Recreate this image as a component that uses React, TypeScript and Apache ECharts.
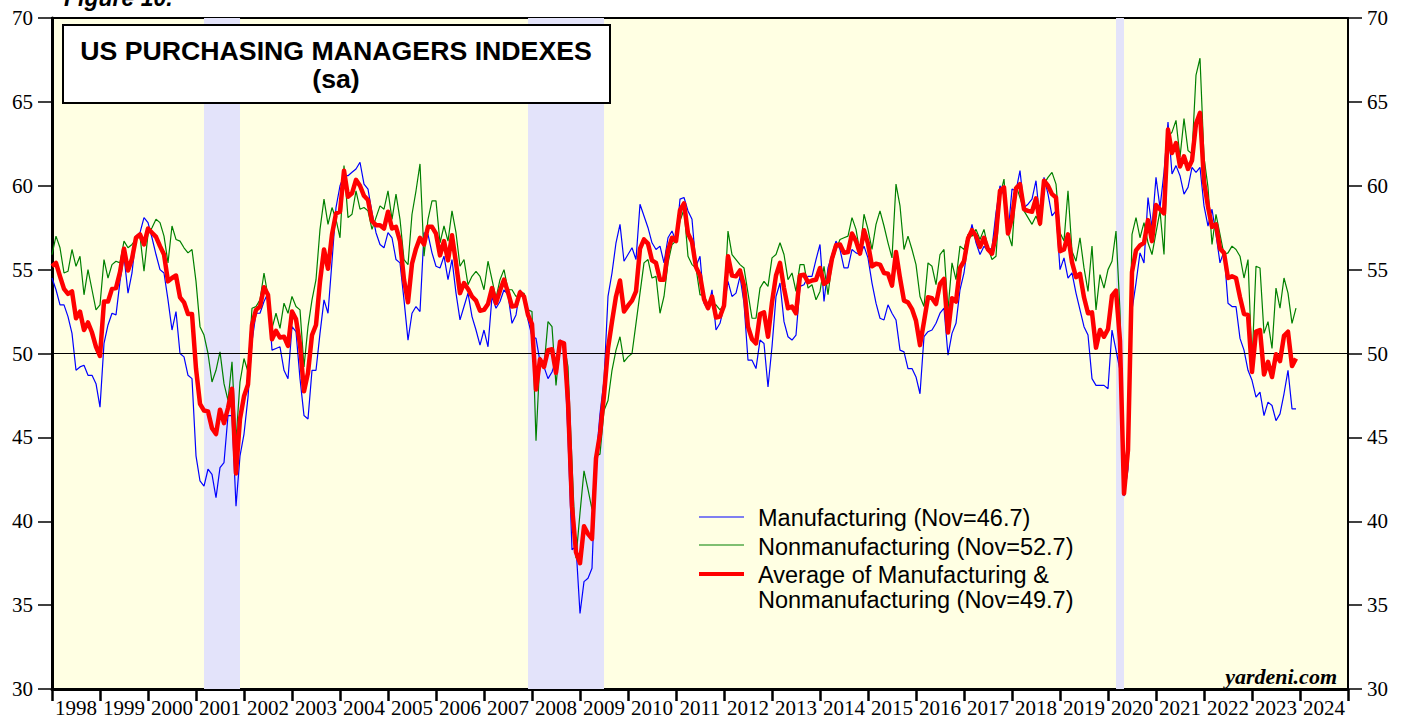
import React, { useEffect, useRef } from "react";
import * as echarts from "echarts";

// Year labels on the time axis
const years: string[] = [
  "1998", "1999", "2000", "2001", "2002", "2003", "2004", "2005", "2006",
  "2007", "2008", "2009", "2010", "2011", "2012", "2013", "2014", "2015",
  "2016", "2017", "2018", "2019", "2020", "2021", "2022", "2023", "2024",
];

// Monthly values, Dec 1997 .. Nov 2023
const manufacturing: number[] = [
  54.5,
  53.8, 52.9, 52.9, 52.2, 51.2, 49.0, 49.2, 49.3, 48.7, 48.7, 48.2, 46.8,
  50.6, 51.7, 52.4, 52.3, 54.3, 55.8, 53.6, 54.8, 57.0, 57.2, 58.1, 57.8,
  56.9, 55.9, 55.0, 54.8, 53.2, 51.4, 52.5, 50.0, 49.8, 48.7, 48.5, 43.9,
  42.4, 42.1, 43.1, 42.8, 41.4, 43.2, 43.5, 46.3, 46.3, 40.9, 43.9, 45.2,
  47.4, 50.7, 52.4, 52.4, 53.1, 53.6, 50.2, 50.3, 50.4, 49.0, 48.5, 51.6,
  51.3, 48.5, 46.3, 46.1, 49.0, 49.0, 51.2, 53.2, 52.4, 55.5, 58.7, 60.0,
  60.6, 60.6, 60.8, 61.0, 61.4, 60.1, 59.8, 58.4, 57.2, 56.5, 56.3, 57.2,
  56.9, 55.6, 55.4, 53.2, 50.8, 52.4, 52.8, 52.5, 57.2, 57.1, 56.0, 55.2,
  55.1, 55.8, 54.4, 55.6, 53.6, 52.0, 52.8, 53.6, 52.2, 51.4, 50.5, 51.4,
  50.4, 53.4, 52.7, 53.1, 53.8, 53.5, 51.8, 52.3, 53.8, 53.2, 52.0, 51.0,
  50.9, 49.5, 49.2, 48.5, 48.9, 49.6, 50.8, 50.6, 45.0, 38.3, 38.5, 34.5,
  36.4, 36.6, 37.2, 43.6, 46.4, 48.4, 53.4, 54.8, 56.6, 57.7, 55.5, 55.9,
  56.3, 55.6, 58.9, 58.2, 57.5, 56.6, 56.2, 56.4, 55.4, 56.9, 57.3, 56.7,
  59.2, 59.3, 58.5, 58.0, 55.2, 55.8, 53.0, 52.6, 53.8, 51.4, 51.8, 52.8,
  54.3, 53.4, 53.6, 54.6, 53.0, 49.6, 49.6, 49.1, 50.8, 50.6, 48.0, 50.4,
  53.4, 54.2, 51.9, 51.0, 50.8, 51.1, 54.0, 54.1, 54.6, 54.6, 55.6, 56.5,
  53.1, 55.1, 55.9, 56.7, 56.2, 55.1, 55.1, 56.2, 56.0, 55.9, 56.4, 55.7,
  54.2, 53.0, 52.1, 52.0, 52.9, 52.4, 52.0, 50.2, 50.1, 49.1, 49.1, 48.6,
  47.6, 51.0, 51.3, 51.4, 51.8, 52.4, 52.7, 49.9, 51.2, 51.8, 53.8, 54.8,
  56.6, 57.7, 56.6, 55.9, 56.4, 56.1, 56.3, 58.4, 60.0, 59.4, 57.1, 59.8,
  59.7, 60.9, 58.7, 58.9, 59.2, 60.3, 57.9, 60.5, 59.5, 58.2, 58.5, 55.0,
  55.7, 54.5, 54.8, 53.6, 52.6, 51.6, 51.1, 48.5, 48.1, 48.1, 48.1, 47.9,
  51.4, 50.2, 49.0, 41.5, 43.1, 52.6, 54.2, 56.0, 55.4, 59.3, 57.5, 60.5,
  58.7, 60.8, 63.8, 60.7, 61.2, 60.6, 59.5, 59.9, 61.1, 60.8, 61.1, 58.8,
  57.6, 58.6, 57.1, 55.4, 56.1, 53.0, 52.8, 52.8, 50.9, 50.2, 49.0, 48.4,
  47.4, 47.7, 46.3, 47.1, 46.9, 46.0, 46.4, 47.6, 49.0, 46.7, 46.7,
];

const nonmanufacturing: number[] = [
  55.9,
  57.0, 56.3, 54.8, 54.9, 56.2, 55.2, 55.8, 53.5, 55.0, 53.8, 52.6, 52.9,
  55.6, 54.5, 55.3, 55.5, 55.4, 56.7, 56.3, 56.5, 56.8, 57.0, 54.9, 57.1,
  57.5, 58.0, 57.8, 57.0, 55.4, 57.6, 56.8, 56.7, 56.3, 56.0, 56.2, 54.3,
  51.6, 51.1, 50.0, 48.3, 49.0, 50.1, 48.2, 47.2, 49.5, 44.8, 48.3, 49.7,
  48.9, 52.7, 52.8, 53.2, 54.8, 53.4, 51.5, 52.4, 51.5, 53.0, 52.4, 53.4,
  52.8, 52.6, 49.2, 51.6, 53.2, 54.4, 57.4, 59.2, 57.7, 58.7, 58.0, 56.9,
  61.2, 58.1, 58.3, 59.7, 58.6, 58.7, 58.5, 57.4, 58.1, 58.8, 58.6, 59.7,
  58.0, 59.5, 58.0, 55.6, 55.3, 58.3, 59.7, 61.3, 55.8, 58.0, 59.1, 59.1,
  56.6, 57.6, 56.7, 58.5, 57.2, 55.2, 55.6, 54.1, 54.6, 54.9, 54.6, 53.8,
  55.5, 54.4, 53.3, 54.4, 55.0, 53.8, 53.8, 53.4, 53.5, 53.6, 52.6, 52.5,
  44.8, 49.8, 49.2, 51.9, 51.6, 48.1, 50.6, 50.6, 49.2, 43.5, 37.8, 40.5,
  43.0, 41.9, 40.7, 43.9, 44.0, 46.6, 47.2, 49.0, 50.2, 51.0, 49.5, 49.8,
  50.0, 51.8, 53.6, 55.4, 55.6, 54.5, 54.6, 52.4, 53.4, 55.4, 56.5, 56.7,
  57.9, 58.6, 55.8, 55.3, 55.1, 53.5, 53.5, 52.8, 53.0, 52.9, 52.6, 52.9,
  57.3, 55.9, 55.6, 55.3, 55.1, 53.6, 52.1, 52.1, 53.9, 54.3, 54.0, 55.7,
  55.9, 56.6, 55.9, 54.4, 54.8, 53.7, 55.3, 55.3, 53.9, 54.1, 53.2, 53.7,
  55.2, 53.5, 55.4, 56.2, 56.8, 56.9, 57.0, 58.1, 57.4, 56.0, 58.3, 57.4,
  56.2, 57.7, 58.5, 57.6, 56.6, 55.7, 60.1, 58.8, 56.2, 57.0, 56.2, 55.3,
  53.4, 52.8, 55.4, 55.2, 54.1, 55.9, 56.2, 52.6, 55.4, 54.4, 56.4, 56.2,
  57.1, 57.0, 57.4, 56.8, 57.4, 56.3, 55.6, 55.8, 59.4, 60.4, 57.2, 56.4,
  60.0, 59.3, 58.5, 58.1, 57.7, 58.2, 57.6, 60.1, 60.5, 60.8, 60.1, 57.2,
  56.7, 59.7, 56.1, 55.5, 56.9, 55.1, 53.7, 56.4, 52.6, 54.7, 53.9, 55.0,
  55.5, 57.3, 52.5, 41.8, 45.4, 57.1, 58.1, 56.9, 57.8, 56.6, 55.9, 57.2,
  58.5, 55.9, 62.9, 63.2, 63.9, 61.7, 64.0, 62.1, 61.9, 66.6, 67.6, 61.7,
  59.9, 56.5, 58.3, 57.1, 55.9, 56.0, 56.4, 56.2, 55.8, 54.5, 55.6, 49.4,
  55.2, 55.1, 51.2, 51.9, 50.3, 53.9, 52.7, 54.5, 53.6, 51.8, 52.7,
];

// Recession periods (decimal years)
const recessionStarts: number[] = [2001.167, 2007.917, 2020.167];
const recessionEnds: number[] = [2001.917, 2009.5, 2020.333];

const seriesStart = 1998.0; // first observation (Dec 1997) plotted at axis start

const average: number[] = manufacturing.map(
  (v, i) => Math.round(((v + nonmanufacturing[i]) / 2) * 100) / 100
);

const toPoints = (arr: number[]) =>
  arr.map((v, i) => [seriesStart + i / 12, v]);

const last = (arr: number[]) => arr[arr.length - 1].toFixed(1);

export default function App() {
  const ref = useRef<HTMLDivElement>(null);

  useEffect(() => {
    if (!ref.current) return;
    const chart = echarts.init(ref.current, undefined, { renderer: "svg" });

    const serif = "Liberation Serif";
    const sans = "Liberation Sans";

    const yAxisBase = (pos: "left" | "right") => ({
      type: "value" as const,
      min: 30,
      max: 70,
      interval: 5,
      position: pos,
      axisLine: { show: true, lineStyle: { color: "#000", width: pos === "left" ? 3 : 2 } },
      axisTick: { show: true, length: 14, lineStyle: { color: "#000", width: 1.5 } },
      axisLabel: { color: "#000", fontFamily: serif, fontSize: 21, margin: 19 },
      splitLine: { show: false },
    });

    const legendLabel = {
      fontFamily: sans,
      fontSize: 23.5,
      fill: "#000",
    };

    chart.setOption({
      animation: false,
      backgroundColor: "#fff",
      grid: {
        left: 52,
        top: 18,
        right: 59,
        bottom: 32,
        show: true,
        backgroundColor: "#FFFFE3",
        borderColor: "#000",
        borderWidth: 2,
      },
      xAxis: [
        {
          type: "category",
          data: years,
          boundaryGap: true,
          position: "bottom",
          axisLine: { show: true, lineStyle: { color: "#000", width: 3 } },
          axisTick: { show: true, length: 12, lineStyle: { color: "#000", width: 2.5 } },
          axisLabel: { color: "#000", fontFamily: serif, fontSize: 21, margin: 8, interval: 0 },
          splitLine: { show: false },
        },
        { type: "value", min: 1998, max: 2025, show: false },
      ],
      yAxis: [yAxisBase("left"), yAxisBase("right")],
      series: [
        {
          name: "Recessions",
          type: "line",
          xAxisIndex: 1,
          yAxisIndex: 0,
          data: [],
          z: 1,
          silent: true,
          markArea: {
            silent: true,
            itemStyle: { color: "#E3E3FA" },
            data: recessionStarts.map((s, i) => [{ xAxis: s }, { xAxis: recessionEnds[i] }]),
          },
        },
        {
          name: "Fifty",
          type: "line",
          xAxisIndex: 1,
          yAxisIndex: 0,
          data: [],
          z: 2,
          silent: true,
          markLine: {
            silent: true,
            symbol: "none",
            label: { show: false },
            lineStyle: { color: "#000", width: 1, type: "solid" },
            data: [{ yAxis: 50 }],
          },
        },
        {
          name: "Manufacturing",
          type: "line",
          xAxisIndex: 1,
          yAxisIndex: 0,
          data: toPoints(manufacturing),
          showSymbol: false,
          symbol: "none",
          lineStyle: { color: "#0000FF", width: 1.2 },
          z: 3,
        },
        {
          name: "Nonmanufacturing",
          type: "line",
          xAxisIndex: 1,
          yAxisIndex: 0,
          data: toPoints(nonmanufacturing),
          showSymbol: false,
          symbol: "none",
          lineStyle: { color: "#008000", width: 1.2 },
          z: 4,
        },
        {
          name: "Average of Manufacturing & Nonmanufacturing",
          type: "line",
          xAxisIndex: 1,
          yAxisIndex: 0,
          data: toPoints(average),
          showSymbol: false,
          symbol: "none",
          lineStyle: { color: "#FF0000", width: 4.5, join: "round" },
          z: 5,
        },
      ],
      graphic: [
        {
          type: "text",
          left: 64,
          top: -14,
          z: 50,
          style: { text: "Figure 10.", font: "italic bold 23px 'Liberation Sans'", fill: "#000" },
        },
        {
          type: "rect",
          z: 50,
          shape: { x: 63, y: 25, width: 547, height: 78 },
          style: { fill: "#fff", stroke: "#000", lineWidth: 2 },
        },
        {
          type: "text",
          z: 51,
          x: 336,
          y: 51,
          style: {
            text: "US PURCHASING MANAGERS INDEXES",
            font: "bold 26.7px 'Liberation Sans'",
            fill: "#000",
            align: "center",
            verticalAlign: "middle",
          },
        },
        {
          type: "text",
          z: 51,
          x: 336,
          y: 79,
          style: {
            text: "(sa)",
            font: "bold 26.7px 'Liberation Sans'",
            fill: "#000",
            align: "center",
            verticalAlign: "middle",
          },
        },
        {
          type: "line",
          z: 50,
          shape: { x1: 699, y1: 517, x2: 744, y2: 517 },
          style: { stroke: "#0000FF", lineWidth: 1.2 },
        },
        {
          type: "text",
          z: 50,
          x: 758,
          y: 518,
          style: { ...legendLabel, text: `Manufacturing (Nov=${last(manufacturing)})`, verticalAlign: "middle" },
        },
        {
          type: "line",
          z: 50,
          shape: { x1: 699, y1: 545, x2: 744, y2: 545 },
          style: { stroke: "#008000", lineWidth: 1.2 },
        },
        {
          type: "text",
          z: 50,
          x: 758,
          y: 547,
          style: { ...legendLabel, text: `Nonmanufacturing (Nov=${last(nonmanufacturing)})`, verticalAlign: "middle" },
        },
        {
          type: "line",
          z: 50,
          shape: { x1: 699, y1: 574, x2: 744, y2: 574 },
          style: { stroke: "#FF0000", lineWidth: 4 },
        },
        {
          type: "text",
          z: 50,
          x: 758,
          y: 575,
          style: { ...legendLabel, text: "Average of Manufacturing &", verticalAlign: "middle" },
        },
        {
          type: "text",
          z: 50,
          x: 758,
          y: 600,
          style: { ...legendLabel, text: `Nonmanufacturing (Nov=${last(average)})`, verticalAlign: "middle" },
        },
        {
          type: "text",
          z: 50,
          x: 1337,
          y: 676,
          style: {
            text: "yardeni.com",
            font: "italic bold 22px 'Liberation Serif'",
            fill: "#000",
            align: "right",
            verticalAlign: "middle",
          },
        },
      ],
    });

    return () => chart.dispose();
  }, []);

  return (
    <div
      ref={ref}
      style={{ position: "absolute", left: 0, top: 0, width: 1407, height: 721 }}
    />
  );
}
